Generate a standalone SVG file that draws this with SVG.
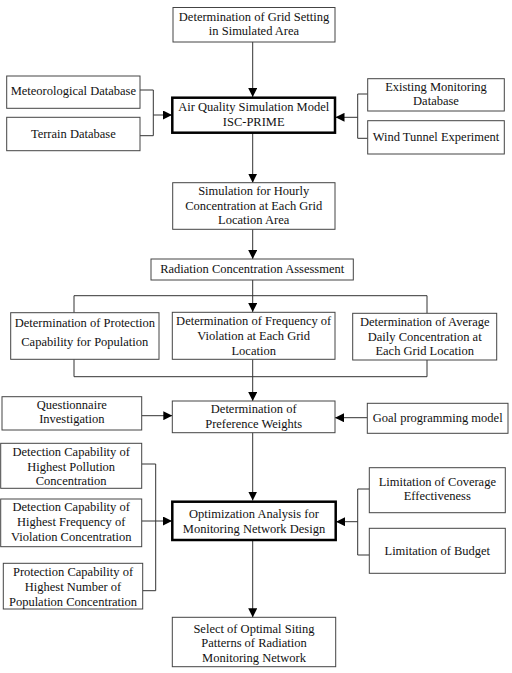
<svg xmlns="http://www.w3.org/2000/svg" width="512" height="673" viewBox="0 0 512 673">
<defs>
<marker id="ah" markerUnits="userSpaceOnUse" markerWidth="9" markerHeight="9" viewBox="0 0 9 9" refX="9" refY="4.5" orient="auto"><path d="M0,0 L9,4.5 L0,9 Z" fill="#000"/></marker>
<style>
.b{fill:#fff;stroke:#444;stroke-width:1}
.k{fill:#fff;stroke:#000;stroke-width:2.5}
text{font-family:"Liberation Serif","Times New Roman",serif;font-size:12.5px;fill:#111;text-anchor:middle}
.c{fill:none;stroke:#333;stroke-width:1}
.a{fill:none;stroke:#333;stroke-width:1;marker-end:url(#ah)}
</style>
</defs>
<rect width="512" height="673" fill="#fff"/>
<g id="connectors">
<path class="a" d="M252.7,42 V97"/>
<path class="c" d="M140,90 H153.3 V135.7 H140"/>
<path class="a" d="M153.3,115 H172"/>
<path class="c" d="M367.7,94 H357.7 V138.3 H367.7"/>
<path class="a" d="M357.7,117.3 H335.5"/>
<path class="a" d="M252.7,133 V182.7"/>
<path class="a" d="M252.7,229.3 V259"/>
<path class="a" d="M252.7,280 V312"/>
<path class="c" d="M74,312.7 V295.7 H427 V313.3"/>
<path class="c" d="M74,359.3 V376.7 H427 V360"/>
<path class="a" d="M252.7,359.3 V401"/>
<path class="a" d="M141.7,415.7 H172.3"/>
<path class="a" d="M367.3,417.7 H335"/>
<path class="a" d="M252.7,432.7 V500.5"/>
<path class="c" d="M141.7,464 H155.7 V590.7 H142.7"/>
<path class="a" d="M141.7,521 H172"/>
<path class="c" d="M369.3,489 H357.7 V555 H369.3"/>
<path class="a" d="M357.7,521.7 H336"/>
<path class="a" d="M252.7,540 V617.3"/>
</g>
<g id="grid"><rect class="b" x="173" y="7.5" width="162" height="34.5"/><text x="254" y="20.5">Determination of Grid Setting</text><text x="254" y="35">in Simulated Area</text></g>
<g id="met"><rect class="b" x="6.7" y="76" width="133.3" height="32.3"/><text x="73.3" y="95">Meteorological Database</text></g>
<g id="terrain"><rect class="b" x="6.7" y="117.3" width="133.3" height="33.4"/><text x="73.3" y="138">Terrain Database</text></g>
<g id="aq"><rect class="k" x="172.3" y="97.7" width="162.7" height="35"/><text x="253.7" y="111">Air Quality Simulation Model</text><text x="253.7" y="126">ISC-PRIME</text></g>
<g id="exist"><rect class="b" x="367.7" y="78.7" width="136.6" height="32.3"/><text x="436" y="91">Existing Monitoring</text><text x="436" y="104.7">Database</text></g>
<g id="wind"><rect class="b" x="367.7" y="120.7" width="136.6" height="33.3"/><text x="436" y="140.7">Wind Tunnel Experiment</text></g>
<g id="sim"><rect class="b" x="172.7" y="182.7" width="162.3" height="46.6"/><text x="253.7" y="195">Simulation for Hourly</text><text x="253.7" y="209.7">Concentration at Each Grid</text><text x="253.7" y="224">Location Area</text></g>
<g id="rad"><rect class="b" x="151" y="259" width="202.3" height="21"/><text x="252.2" y="273.3">Radiation Concentration Assessment</text></g>
<g id="prot"><rect class="b" x="10.7" y="312.7" width="148.3" height="46.6"/><text x="84.8" y="327.3">Determination of Protection</text><text x="84.8" y="346.3">Capability for Population</text></g>
<g id="freq"><rect class="b" x="172.3" y="312.3" width="162.7" height="47"/><text x="253.7" y="324.7">Determination of Frequency of</text><text x="253.7" y="339.7">Violation at Each Grid</text><text x="253.7" y="354.7">Location</text></g>
<g id="avg"><rect class="b" x="352.7" y="313.3" width="144" height="46.7"/><text x="424.7" y="326">Determination of Average</text><text x="424.7" y="341">Daily Concentration at</text><text x="424.7" y="355">Each Grid Location</text></g>
<g id="quest"><rect class="b" x="2" y="396.7" width="139.7" height="33.3"/><text x="71.8" y="409.3">Questionnaire</text><text x="71.8" y="423.3">Investigation</text></g>
<g id="pref"><rect class="b" x="172.3" y="401" width="162.7" height="31.7"/><text x="253.7" y="413">Determination of</text><text x="253.7" y="428">Preference Weights</text></g>
<g id="goal"><rect class="b" x="367.3" y="403.3" width="140.7" height="30"/><text x="437.7" y="421.7">Goal programming model</text></g>
<g id="det1"><rect class="b" x="0.7" y="443.3" width="141" height="45"/><text x="71.2" y="456.3">Detection Capability of</text><text x="71.2" y="470.7">Highest Pollution</text><text x="71.2" y="485.3">Concentration</text></g>
<g id="det2"><rect class="b" x="0.7" y="499" width="141" height="47.7"/><text x="71.2" y="511.3">Detection Capability of</text><text x="71.2" y="525.7">Highest Frequency of</text><text x="71.2" y="540.7">Violation Concentration</text></g>
<g id="prot2"><rect class="b" x="3.3" y="563.3" width="139.4" height="45.7"/><text x="73" y="576.3">Protection Capability of</text><text x="73" y="590.7">Highest Number of</text><text x="73" y="605.7">Population Concentration</text></g>
<g id="opt"><rect class="k" x="172.3" y="501.7" width="163.4" height="38.3"/><text x="254" y="518">Optimization Analysis for</text><text x="254" y="532.7">Monitoring Network Design</text></g>
<g id="cov"><rect class="b" x="369.3" y="467.7" width="136" height="45"/><text x="437.3" y="486.3">Limitation of Coverage</text><text x="437.3" y="500">Effectiveness</text></g>
<g id="bud"><rect class="b" x="369.3" y="528.3" width="136" height="45"/><text x="437.3" y="554.7">Limitation of Budget</text></g>
<g id="sel"><rect class="b" x="172.3" y="617.3" width="163.4" height="49.4"/><text x="254" y="633">Select of Optimal Siting</text><text x="254" y="647.3">Patterns of Radiation</text><text x="254" y="661.7">Monitoring Network</text></g>
</svg>
